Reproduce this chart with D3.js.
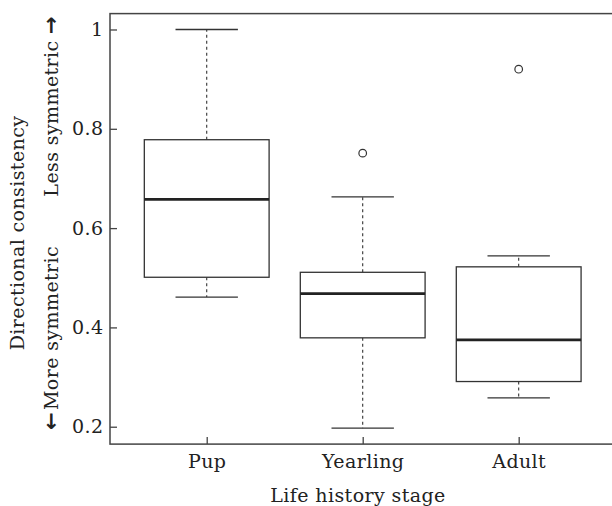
<!DOCTYPE html>
<html>
<head>
<meta charset="utf-8">
<script src="https://cdn.jsdelivr.net/npm/d3@7"></script>
<style>
  html, body { margin: 0; padding: 0; background: #fff; }
  svg text { font-family: "DejaVu Serif", serif; font-size: 19px; fill: #222; letter-spacing: 0.4px; }
  svg tspan.arrow { font-family: "DejaVu Sans", sans-serif; font-weight: bold; font-size: 21px; }
</style>
</head>
<body>
<div id="chart"></div>
<script>
// life history stages and box statistics
const categories = ["Pup", "Yearling", "Adult"];
const whiskerLow = [0.461, 0.197, 0.258];
const q1 = [0.501, 0.379, 0.291];
const median = [0.658, 0.468, 0.375];
const q3 = [0.778, 0.511, 0.522];
const whiskerHigh = [1.0, 0.663, 0.544];
const outliers = [[], [0.751], [0.920]];
const yTicks = [0.2, 0.4, 0.6, 0.8, 1];
const yTickLabels = ["0.2", "0.4", "0.6", "0.8", "1"];

const width = 612, height = 506;

const svg = d3.select("#chart")
  .append("svg")
  .attr("width", width)
  .attr("height", height);

// R-style boxplot limits: 0.5..n+0.5 with 4% padding
const x = d3.scaleLinear().domain([0.38, 3.62]).range([110, 615.4]);
const y = d3.scaleLinear().domain([0.165, 1.032]).range([444.1, 13.6]);

const boxHalf = 0.4, capHalf = 0.2;

const boxes = categories.map((c, i) => ({
  name: c, pos: i + 1,
  lo: whiskerLow[i], q1: q1[i], med: median[i], q3: q3[i], hi: whiskerHigh[i],
  out: outliers[i]
}));

const g = svg.append("g");

// whiskers (dashed)
g.selectAll("line.wh-up").data(boxes).enter().append("line")
  .attr("x1", d => x(d.pos)).attr("x2", d => x(d.pos))
  .attr("y1", d => y(d.q3)).attr("y2", d => y(d.hi))
  .attr("stroke", "#333").attr("stroke-width", 1.1).attr("stroke-dasharray", "3,3");
g.selectAll("line.wh-dn").data(boxes).enter().append("line")
  .attr("x1", d => x(d.pos)).attr("x2", d => x(d.pos))
  .attr("y1", d => y(d.q1)).attr("y2", d => y(d.lo))
  .attr("stroke", "#333").attr("stroke-width", 1.1).attr("stroke-dasharray", "3,3");

// caps
["hi", "lo"].forEach(k => {
  g.selectAll("line.cap-" + k).data(boxes).enter().append("line")
    .attr("x1", d => x(d.pos - capHalf)).attr("x2", d => x(d.pos + capHalf))
    .attr("y1", d => y(d[k])).attr("y2", d => y(d[k]))
    .attr("stroke", "#333").attr("stroke-width", 1.3);
});

// boxes
g.selectAll("rect.box").data(boxes).enter().append("rect")
  .attr("x", d => x(d.pos - boxHalf))
  .attr("width", d => x(d.pos + boxHalf) - x(d.pos - boxHalf))
  .attr("y", d => y(d.q3))
  .attr("height", d => y(d.q1) - y(d.q3))
  .attr("fill", "#fff").attr("stroke", "#333").attr("stroke-width", 1.3);

// medians
g.selectAll("line.med").data(boxes).enter().append("line")
  .attr("x1", d => x(d.pos - boxHalf)).attr("x2", d => x(d.pos + boxHalf))
  .attr("y1", d => y(d.med)).attr("y2", d => y(d.med))
  .attr("stroke", "#222").attr("stroke-width", 2.7);

// outliers
const outPts = boxes.flatMap(d => d.out.map(v => ({ pos: d.pos, v })));
g.selectAll("circle.out").data(outPts).enter().append("circle")
  .attr("cx", d => x(d.pos)).attr("cy", d => y(d.v)).attr("r", 3.8)
  .attr("fill", "none").attr("stroke", "#333").attr("stroke-width", 1.2);

// frame
svg.append("rect")
  .attr("x", x.range()[0]).attr("y", y.range()[1])
  .attr("width", x.range()[1] - x.range()[0])
  .attr("height", y.range()[0] - y.range()[1])
  .attr("fill", "none").attr("stroke", "#444").attr("stroke-width", 1.5);

// y axis, ticks pointing inward
const yAxis = d3.axisLeft(y)
  .tickValues(yTicks)
  .tickFormat((d, i) => yTickLabels[i])
  .tickSizeInner(-7).tickSizeOuter(0).tickPadding(6.5);
const ya = svg.append("g").attr("transform", `translate(${x.range()[0]},0)`).call(yAxis);
ya.select(".domain").remove();
ya.selectAll("line").attr("stroke", "#444").attr("stroke-width", 1.3);
ya.selectAll("text").attr("font-size", null).attr("font-family", null).attr("fill", "#222");

// x axis
const xAxis = d3.axisBottom(x)
  .tickValues(boxes.map(d => d.pos))
  .tickFormat((d, i) => categories[i])
  .tickSizeInner(-7).tickSizeOuter(0).tickPadding(10);
const xa = svg.append("g").attr("transform", `translate(0,${y.range()[0]})`).call(xAxis);
xa.select(".domain").remove();
xa.selectAll("line").attr("stroke", "#444").attr("stroke-width", 1.3);
xa.selectAll("text").attr("font-size", null).attr("font-family", null).attr("fill", "#222");

// axis titles
svg.append("text")
  .attr("x", 358).attr("y", 502)
  .attr("text-anchor", "middle")
  .text("Life history stage");

svg.append("text")
  .attr("transform", "translate(24,233) rotate(-90)")
  .attr("text-anchor", "middle")
  .text("Directional consistency");

const more = svg.append("text")
  .attr("transform", "translate(58,430) rotate(-90)")
  .attr("text-anchor", "start");
more.append("tspan").attr("class", "arrow").text("\u2190");
more.append("tspan").attr("dx", 2).text("More symmetric");

const less = svg.append("text")
  .attr("transform", "translate(58,16) rotate(-90)")
  .attr("text-anchor", "end");
less.append("tspan").text("Less symmetric ");
less.append("tspan").attr("class", "arrow").text("\u2192");
</script>
</body>
</html>
